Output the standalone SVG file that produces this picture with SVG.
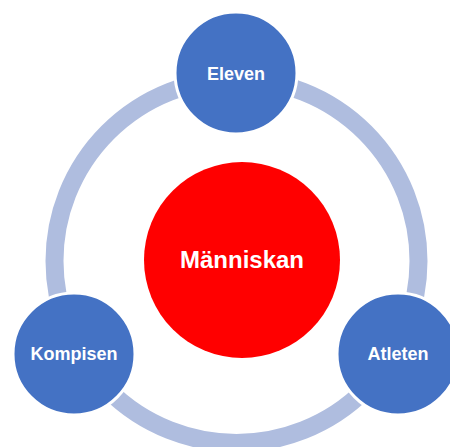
<svg xmlns="http://www.w3.org/2000/svg" width="450" height="447" viewBox="0 0 450 447">
<style>
.node{fill:#4472C4;stroke:#fff;stroke-width:3}
.lbl{font-family:"Liberation Sans",Arial,sans-serif;font-weight:bold;fill:#fff;text-anchor:middle}
.ring{fill:none;stroke:#AFBDDF;stroke-width:18}
</style>
<rect width="450" height="447" fill="#fff"/>
<g id="connectors">
<circle class="ring" cx="236.5" cy="261" r="182"/>
</g>
<g id="center">
<circle cx="242" cy="260" r="98" fill="#FF0000"/>
<text class="lbl" x="242" y="268" font-size="24">Människan</text>
</g>
<g id="eleven">
<circle class="node" cx="236" cy="73" r="61"/>
<text class="lbl" x="236" y="80" font-size="18">Eleven</text>
</g>
<g id="kompisen">
<circle class="node" cx="74" cy="354" r="61"/>
<text class="lbl" x="74" y="360" font-size="18">Kompisen</text>
</g>
<g id="atleten">
<circle class="node" cx="398" cy="354" r="61"/>
<text class="lbl" x="398" y="360" font-size="18">Atleten</text>
</g>
</svg>
